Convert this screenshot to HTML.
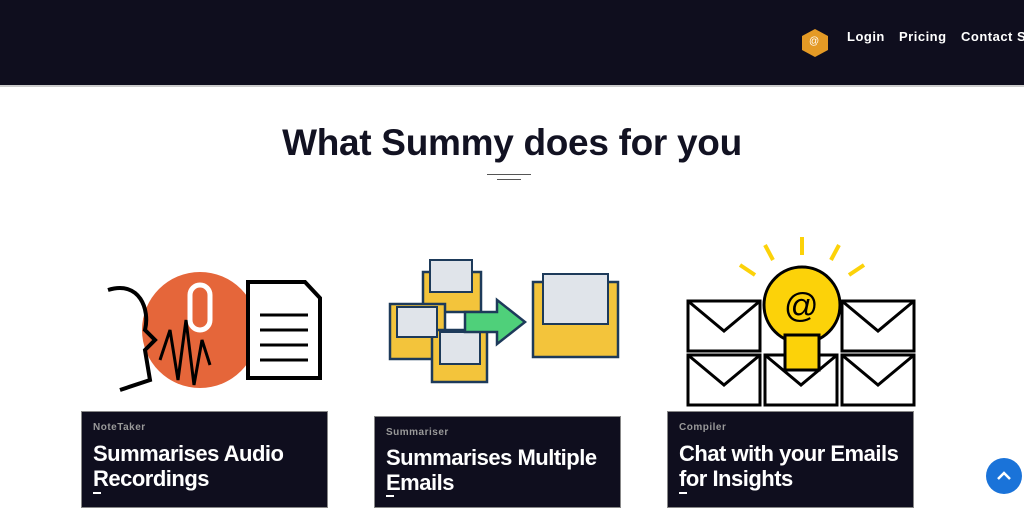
<!DOCTYPE html>
<html><head><style>
*{margin:0;padding:0;box-sizing:border-box}
body{width:1024px;height:512px;background:#fff;font-family:"Liberation Sans",sans-serif;position:relative;overflow:hidden}
.hdr{position:absolute;left:0;top:0;width:1024px;height:87px;background:#0f0e1e;border-bottom:2px solid #ccc}
.nav{position:absolute;top:29px;color:#fff;font-weight:bold;font-size:13px;letter-spacing:.5px;white-space:nowrap}
h1{position:absolute;top:122px;left:0;width:1024px;text-align:center;font-size:37px;font-weight:900;color:#121222;letter-spacing:-.3px}
.card{position:absolute;width:247px;background:#0f0e1e;border:1px solid #888;color:#fff}
.card .t{font-size:10px;font-weight:bold;color:#999;letter-spacing:.5px;position:absolute;left:11px}
.card .h{font-size:22px;font-weight:900;line-height:25px;position:absolute;left:11px;letter-spacing:-.5px;white-space:nowrap}
.card .u{position:absolute;left:11px;width:8px;height:2px;background:#fff}
.btn{position:absolute;left:986px;top:458px;width:36px;height:36px;border-radius:50%;background:#1a73d9}
</style></head><body>
<div class="hdr">
<svg style="position:absolute;left:802px;top:29px" width="26" height="28"><polygon points="13,0 26,7 26,21 13,28 0,21 0,7" fill="#e49a25"/><text x="7" y="15" font-size="10" fill="#fff">@</text></svg>
<div class="nav" style="left:847px">Login</div>
<div class="nav" style="left:899px">Pricing</div>
<div class="nav" style="left:961px">Contact Sa</div>
</div>
<h1>What Summy does for you</h1>
<div style="position:absolute;left:487px;top:174px;width:44px;height:1px;background:#555"></div>
<div style="position:absolute;left:497px;top:179px;width:24px;height:1px;background:#555"></div>

<svg style="position:absolute;left:100px;top:270px" width="230" height="130">
<circle cx="100" cy="60" r="58" fill="#e5663a"/>
<rect x="90" y="15" width="20" height="45" rx="10" fill="none" stroke="#fff" stroke-width="5"/>
<path d="M8,20 C40,10 50,40 45,60 L55,70 L45,80 L50,110 L20,120" fill="none" stroke="#000" stroke-width="4"/>
<polyline points="60,90 70,60 78,110 86,50 94,115 102,70 110,95" fill="none" stroke="#000" stroke-width="3"/>
<path d="M148,12 L205,12 L220,28 L220,108 L148,108 Z" fill="#fff" stroke="#000" stroke-width="4"/>
<line x1="160" y1="45" x2="208" y2="45" stroke="#000" stroke-width="3"/><line x1="160" y1="60" x2="208" y2="60" stroke="#000" stroke-width="3"/><line x1="160" y1="75" x2="208" y2="75" stroke="#000" stroke-width="3"/><line x1="160" y1="90" x2="208" y2="90" stroke="#000" stroke-width="3"/>
</svg>

<svg style="position:absolute;left:385px;top:252px" width="240" height="135">
<g fill="#f3c43b" stroke="#1d3a5a" stroke-width="2.5">
<rect x="38" y="20" width="58" height="40"/><rect x="5" y="52" width="55" height="55"/><rect x="47" y="78" width="55" height="52"/><rect x="148" y="30" width="85" height="75"/>
</g>
<g fill="#e0e4ea" stroke="#1d3a5a" stroke-width="2"><rect x="45" y="8" width="42" height="32"/><rect x="12" y="55" width="40" height="30"/><rect x="55" y="80" width="40" height="32"/><rect x="158" y="22" width="65" height="50"/></g>
<polygon points="80,60 112,60 112,48 140,70 112,92 112,80 80,80" fill="#4fd07a" stroke="#1d3a5a" stroke-width="2.5"/>
</svg>

<svg style="position:absolute;left:685px;top:235px" width="235" height="175">
<g fill="#fff" stroke="#000" stroke-width="3">
<rect x="3" y="66" width="72" height="50"/><rect x="157" y="66" width="72" height="50"/><rect x="3" y="120" width="72" height="50"/><rect x="80" y="120" width="72" height="50"/><rect x="157" y="120" width="72" height="50"/>
</g>
<g fill="none" stroke="#000" stroke-width="3"><polyline points="3,66 39,96 75,66"/><polyline points="157,66 193,96 229,66"/><polyline points="3,120 39,150 75,120"/><polyline points="80,120 116,150 152,120"/><polyline points="157,120 193,150 229,120"/></g>
<circle cx="117" cy="70" r="38" fill="#fcd209" stroke="#000" stroke-width="3"/>
<rect x="100" y="100" width="34" height="35" fill="#fcd209" stroke="#000" stroke-width="3"/>
<text x="99" y="82" font-size="34" font-family="Liberation Sans">@</text>
<g stroke="#fcd209" stroke-width="4"><line x1="117" y1="2" x2="117" y2="20"/><line x1="80" y1="10" x2="88" y2="25"/><line x1="154" y1="10" x2="146" y2="25"/><line x1="55" y1="30" x2="70" y2="40"/><line x1="179" y1="30" x2="164" y2="40"/></g>
</svg>

<div class="card" style="left:81px;top:411px;height:97px"><div class="t" style="top:10px">NoteTaker</div><div class="h" style="top:29px">Summarises Audio<br>Recordings</div><div class="u" style="top:80px"></div></div>
<div class="card" style="left:374px;top:416px;height:92px"><div class="t" style="top:10px">Summariser</div><div class="h" style="top:28px">Summarises Multiple<br>Emails</div><div class="u" style="top:78px"></div></div>
<div class="card" style="left:667px;top:411px;height:97px"><div class="t" style="top:10px">Compiler</div><div class="h" style="top:29px">Chat with your Emails<br>for Insights</div><div class="u" style="top:80px"></div></div>
<div class="btn"><svg width="36" height="36"><polyline points="12,21 18,15 24,21" fill="none" stroke="#fff" stroke-width="2.5"/></svg></div>
</body></html>
